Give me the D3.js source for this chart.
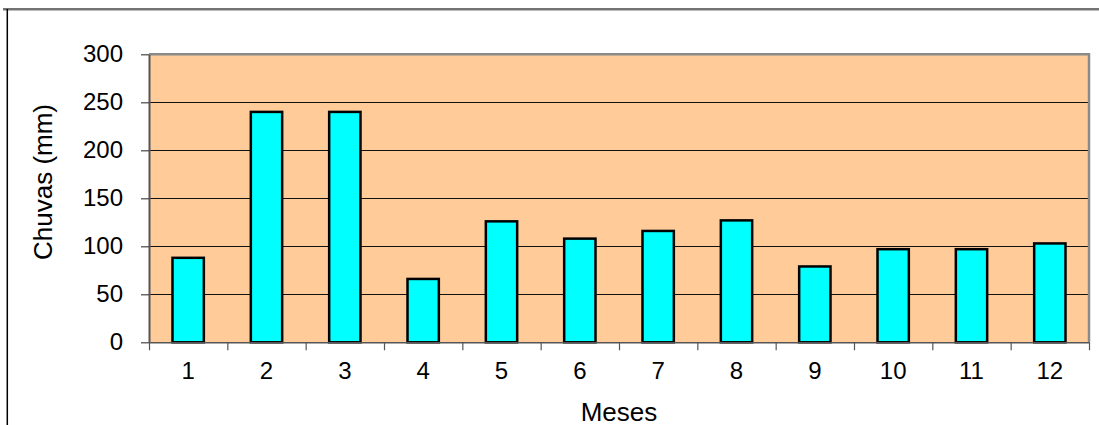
<!DOCTYPE html>
<html>
<head>
<meta charset="utf-8">
<script src="https://cdn.jsdelivr.net/npm/d3@7"></script>
<style>
  html, body { margin: 0; padding: 0; background: #fff; }
  svg { display: block; }
  text { font-family: Arial, "Liberation Sans", sans-serif; fill: #000; }
</style>
</head>
<body>
<svg id="chart" width="1099" height="425"></svg>
<script>
// Monthly rainfall (mm)
const months = ["1", "2", "3", "4", "5", "6", "7", "8", "9", "10", "11", "12"];
const rainfall = [88, 240, 240, 66, 126, 108, 116, 127, 79, 97, 97, 103];
const yTicks = [0, 50, 100, 150, 200, 250, 300];
const yLabel = "Chuvas (mm)";
const xLabel = "Meses";

const svg = d3.select("#chart");
const plot = { left: 149, right: 1089, top: 54.3, bottom: 342.3 };

// Outer frame of the chart object
svg.append("line").attr("x1", 3).attr("x2", 1099).attr("y1", 9).attr("y2", 9)
  .attr("stroke", "#444").attr("stroke-width", 1.5);
svg.append("line").attr("x1", 3).attr("x2", 1099).attr("y1", 10.5).attr("y2", 10.5)
  .attr("stroke", "#bbb").attr("stroke-width", 1);
svg.append("line").attr("x1", 7.3).attr("x2", 7.3).attr("y1", 9).attr("y2", 425)
  .attr("stroke", "#000").attr("stroke-width", 1.5);

const x = d3.scaleBand().domain(months)
  .range([plot.left, plot.right]).paddingInner(0.6).paddingOuter(0.3);
const xEdges = d3.scaleLinear().domain([0, months.length]).range([plot.left, plot.right]);
const y = d3.scaleLinear().domain([0, 300]).range([plot.bottom, plot.top]);

// Plot area background
svg.append("rect")
  .attr("x", plot.left).attr("y", plot.top)
  .attr("width", plot.right - plot.left).attr("height", plot.bottom - plot.top)
  .attr("fill", "#FFCC99");

// Horizontal gridlines
svg.append("g").selectAll("line").data(yTicks.filter(d => d > 0 && d < 300)).join("line")
  .attr("x1", plot.left).attr("x2", plot.right)
  .attr("y1", d => Math.round(y(d)) + 0.5).attr("y2", d => Math.round(y(d)) + 0.5)
  .attr("stroke", "#111").attr("stroke-width", 1);

// Plot area border (top and right)
svg.append("path")
  .attr("d", `M${plot.left},${plot.top} H${plot.right} V${plot.bottom}`)
  .attr("fill", "none").attr("stroke", "#8a8a8a").attr("stroke-width", 2.5);

// Bars
svg.append("g").selectAll("rect").data(months).join("rect")
  .attr("x", d => x(d))
  .attr("y", (d, i) => y(rainfall[i]))
  .attr("width", x.bandwidth())
  .attr("height", (d, i) => y(0) - y(rainfall[i]))
  .attr("fill", "#00FFFF")
  .attr("stroke", "#000")
  .attr("stroke-width", 2.5);

// Y axis
const yAxis = svg.append("g")
  .attr("transform", `translate(${plot.left},0)`)
  .call(d3.axisLeft(y).tickValues(yTicks).tickSize(8).tickPadding(18).tickSizeOuter(0));
yAxis.select(".domain").attr("stroke", "#555").attr("stroke-width", 2);
yAxis.selectAll(".tick line").attr("stroke", "#444").attr("stroke-width", 1.2);
yAxis.selectAll(".tick text")
  .style("font-family", "Arial, 'Liberation Sans', sans-serif")
  .style("font-size", "24px").attr("fill", "#000");

// X axis: ticks on category boundaries, labels centred in each category
const xAxis = svg.append("g")
  .attr("transform", `translate(0,${plot.bottom})`)
  .call(d3.axisBottom(xEdges).tickValues(d3.range(months.length + 1)).tickSize(8)
    .tickFormat("").tickSizeOuter(0));
xAxis.select(".domain").attr("stroke", "#555").attr("stroke-width", 1.5);
xAxis.selectAll(".tick line").attr("stroke", "#555").attr("stroke-width", 1.2);

const xLabels = svg.append("g")
  .attr("transform", `translate(0,${plot.bottom})`)
  .call(d3.axisBottom(x).tickSize(0).tickPadding(20));
xLabels.select(".domain").remove();
xLabels.selectAll(".tick text")
  .style("font-family", "Arial, 'Liberation Sans', sans-serif")
  .style("font-size", "24px").attr("fill", "#000");

// Axis titles
svg.append("text")
  .attr("transform", "translate(52,182) rotate(-90)")
  .attr("text-anchor", "middle")
  .style("font-size", "26px")
  .text(yLabel);

svg.append("text")
  .attr("x", (plot.left + plot.right) / 2).attr("y", 421)
  .attr("text-anchor", "middle")
  .style("font-size", "26px")
  .text(xLabel);
</script>
</body>
</html>
